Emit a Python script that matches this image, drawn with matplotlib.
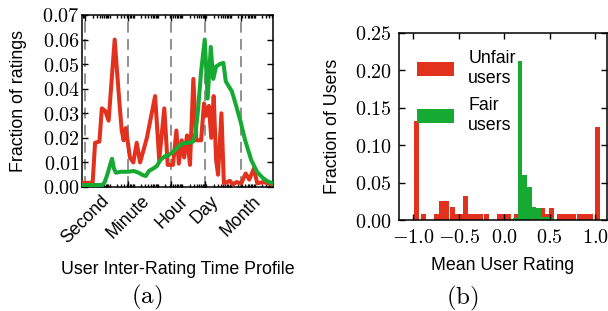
import matplotlib.pyplot as plt
import numpy as np
from matplotlib.ticker import FixedLocator, LogLocator, FuncFormatter, MultipleLocator, NullFormatter

plt.rcParams['font.family'] = ['Liberation Sans', 'DejaVu Sans']
plt.rcParams['mathtext.fontset'] = 'cm'

red = '#e2311d'
green = '#16aa32'

# (a) inter-rating time profile, x stored as log10(seconds)
unfair_log_t = [-0.14, 0.30, 0.40, 0.58, 0.68, 0.82, 0.96, 1.21, 1.40, 1.50, 1.58, 1.67,
                1.84, 1.98, 2.12, 2.26, 2.54, 2.88, 3.05, 3.26, 3.40, 3.62, 3.76, 3.86,
                3.98, 4.08, 4.20, 4.32, 4.46, 4.58, 4.78, 4.90, 4.99, 5.10, 5.20, 5.30,
                5.40, 5.48, 5.62, 5.72, 5.85, 5.97, 6.10, 6.24, 6.44, 6.62, 6.77, 6.96,
                7.10, 7.35, 7.55, 7.75]
unfair_frac = [0.0017, 0.0017, 0.018, 0.0185, 0.032, 0.031, 0.027, 0.060, 0.035, 0.023, 0.019, 0.024,
               0.012, 0.010, 0.018, 0.010, 0.020, 0.037, 0.011, 0.032, 0.009, 0.009, 0.023, 0.0095,
               0.019, 0.012, 0.021, 0.009, 0.044, 0.019, 0.019, 0.034, 0.029, 0.033, 0.020, 0.037,
               0.011, 0.005, 0.030, 0.0015, 0.002, 0.0025, 0.001, 0.002, 0.0015, 0.0055, 0.003, 0.0075,
               0.0015, 0.002, 0.0015, 0.001]
fair_log_t = [-0.14, 0.70, 0.80, 0.92, 1.02, 1.10, 1.18, 1.26, 1.45, 1.75, 2.00, 2.20,
              2.38, 2.50, 2.62, 2.80, 2.95, 3.10, 3.28, 3.42, 3.58, 3.75, 3.90, 4.05,
              4.25, 4.45, 4.55, 4.65, 4.78, 4.93, 5.05, 5.18, 5.28, 5.40, 5.55, 5.70,
              5.80, 5.92, 6.05, 6.20, 6.40, 6.60, 6.85, 7.10, 7.35, 7.55, 7.75]
fair_frac = [0.0008, 0.0008, 0.002, 0.0055, 0.009, 0.0115, 0.0075, 0.0058, 0.0062, 0.0062, 0.0065, 0.0058,
             0.0048, 0.0045, 0.0065, 0.0075, 0.0085, 0.011, 0.0125, 0.0128, 0.014, 0.0155, 0.017, 0.0178,
             0.018, 0.0185, 0.022, 0.031, 0.047, 0.060, 0.036, 0.057, 0.044, 0.049, 0.050, 0.0505,
             0.043, 0.041, 0.039, 0.034, 0.027, 0.019, 0.011, 0.006, 0.0035, 0.0022, 0.0015]
time_ticks = [1, 60, 3600, 86400, 2592000]
time_labels = ['Second', 'Minute', 'Hour', 'Day', 'Month']

# (b) mean user rating histogram (bar centres and heights)
unfair_rating = [-0.965, -0.89, -0.75, -0.695, -0.632, -0.572, -0.515, -0.475, -0.423,
                 -0.368, -0.313, -0.258, -0.193, -0.056, -0.001, 0.043, 0.13,
                 0.424, 0.471, 0.521, 0.607, 0.660, 0.712, 0.763,
                 0.828, 0.878, 0.928, 0.953, 1.027]
unfair_share = [0.133, 0.008, 0.008, 0.025, 0.025, 0.017, 0.008, 0.008, 0.0325,
                0.008, 0.008, 0.008, 0.008, 0.008, 0.008, 0.008, 0.008,
                0.0165, 0.0085, 0.0165, 0.0085, 0.0085, 0.0085, 0.0085,
                0.0085, 0.0085, 0.0085, 0.0085, 0.125]
fair_rating = [0.075, 0.125, 0.175, 0.225, 0.275, 0.325, 0.375, 0.425, 0.475, 0.525]
fair_share = [0.002, 0.003, 0.212, 0.0606, 0.0446, 0.0178, 0.0165, 0.0045, 0.0036, 0.003]

fig = plt.figure(figsize=(6.08, 3.11), dpi=100)
ax1 = fig.add_axes([82 / 608, 124 / 311, 191 / 608, 172 / 311])
ax2 = fig.add_axes([399 / 608, 91 / 311, 208 / 608, 187 / 311])

cm_fmt = FuncFormatter(lambda v, p: '$%.2f$' % v)

# ---- (a)
for t in time_ticks:
    ax1.axvline(t, color='#888888', lw=1.3, ls=(0, (6, 3.5)), zorder=1)
ax1.plot(10 ** np.array(unfair_log_t), unfair_frac, color=red, lw=2.9, zorder=3)
ax1.plot(10 ** np.array(fair_log_t), fair_frac, color=green, lw=2.9, zorder=3)
ax1.set_xscale('log')
ax1.set_xlim(10 ** -0.14, 10 ** 7.75)
ax1.set_ylim(0, 0.07)
ax1.xaxis.set_major_locator(FixedLocator(time_ticks))
ax1.set_xticklabels(time_labels, rotation=45, fontsize=12.8)
ax1.xaxis.set_minor_locator(LogLocator(base=10, subs=np.arange(1, 10) * 1.0, numticks=30))
ax1.xaxis.set_minor_formatter(NullFormatter())
ax1.yaxis.set_major_locator(MultipleLocator(0.01))
ax1.yaxis.set_major_formatter(cm_fmt)
ax1.tick_params(which='both', direction='in', top=True, right=True, width=1)
ax1.tick_params(which='major', length=4)
ax1.tick_params(which='minor', length=2)
ax1.tick_params(axis='y', labelsize=14.5, pad=1.5)
ax1.tick_params(axis='x', pad=4)
ax1.set_ylabel('Fraction of ratings', fontsize=12.8)
ax1.yaxis.set_label_coords(-0.29, 0.5)
ax1.set_xlabel('User Inter-Rating Time Profile', fontsize=12.8)
ax1.xaxis.set_label_coords(0.5, -0.43)

# ---- (b)
b1 = ax2.bar(unfair_rating, unfair_share, width=0.055, color=red, linewidth=0)
b2 = ax2.bar(fair_rating, fair_share, width=0.05, color=green, linewidth=0)
ax2.set_xlim(-1.157, 1.13)
ax2.set_ylim(0, 0.25)
ax2.xaxis.set_major_locator(MultipleLocator(0.5))
ax2.xaxis.set_major_formatter(FuncFormatter(lambda v, p: '$%.1f$' % v))
ax2.yaxis.set_major_locator(MultipleLocator(0.05))
ax2.yaxis.set_major_formatter(cm_fmt)
ax2.tick_params(which='both', direction='in', top=True, right=True, width=1, length=4)
ax2.tick_params(axis='both', labelsize=14.5)
ax2.tick_params(axis='x', pad=6)
ax2.tick_params(axis='y', pad=5)
ax2.set_ylabel('Fraction of Users', fontsize=12.8)
ax2.yaxis.set_label_coords(-0.28, 0.5)
ax2.set_xlabel('Mean User Rating', fontsize=12.8)
ax2.xaxis.set_label_coords(0.5, -0.198)
ax2.legend([b1, b2], ['Unfair\nusers', 'Fair\nusers'], loc='upper left', frameon=False,
           fontsize=12.8, handlelength=2.1, handleheight=0.8, handletextpad=0.8,
           labelspacing=0.6, borderaxespad=0.3, bbox_to_anchor=(0.025, 0.975))

for ax in (ax1, ax2):
    for s in ax.spines.values():
        s.set_linewidth(1.1)

fig.text(147 / 608, 1 - 297 / 311, r'$(\mathrm{a})$', fontsize=18, ha='center', va='center')
fig.text(462 / 608, 1 - 298 / 311, r'$(\mathrm{b})$', fontsize=18, ha='center', va='center')

fig.savefig('out.png', dpi=100)
